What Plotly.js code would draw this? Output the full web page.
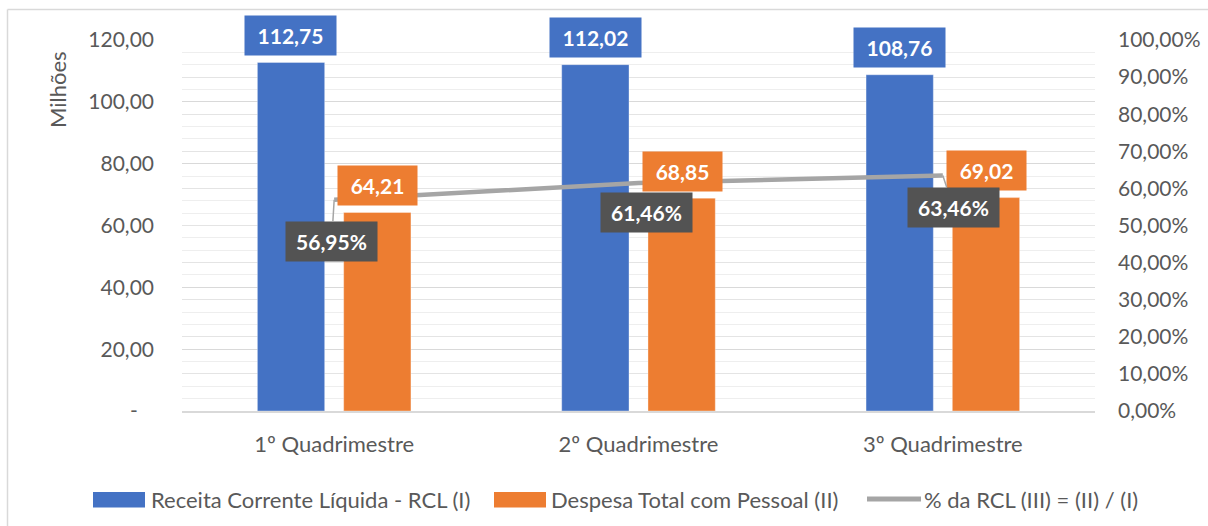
<!DOCTYPE html>
<html>
<head>
<meta charset="utf-8">
<script src="https://cdn.plot.ly/plotly-3.0.1.min.js"></script>
<style>
  html, body { margin: 0; padding: 0; background: #ffffff; }
  #chart { width: 1208px; height: 526px; }
</style>
</head>
<body>
<div id="chart"></div>
<script>
// Receita Corrente Líquida x Despesa com Pessoal por quadrimestre
const categories = ['1º Quadrimestre', '2º Quadrimestre', '3º Quadrimestre'];
const receitaRCL = [112.75, 112.02, 108.76];          // milhões
const despesaPessoal = [64.21, 68.85, 69.02];         // milhões
const percentualRCL = [0.5695, 0.6146, 0.6346];       // (II) / (I)

const leftTickVals = [0, 20, 40, 60, 80, 100, 120];
const leftTickText = ['-\u00a0\u00a0\u00a0', '20,00', '40,00', '60,00', '80,00', '100,00', '120,00'];
const rightTickVals = [0, 0.1, 0.2, 0.3, 0.4, 0.5, 0.6, 0.7, 0.8, 0.9, 1.0];

const seriesNames = ['Receita Corrente Líquida - RCL (I)', 'Despesa Total com Pessoal (II)', '% da RCL (III) = (II) / (I)'];

const BLUE = '#4472c4', ORANGE = '#ed7d31', GRAY = '#a5a5a5', DARK = '#535353', TEXT = '#595959';
const FONT = 'Lato, "Open Sans", sans-serif';

const fmt = v => v.toFixed(2).replace('.', ',');
const fmtPct = v => (v * 100).toFixed(2).replace('.', ',') + '%';

// plot box in pixels, used to place the frame and the legend
const M = { l: 182, r: 113, t: 40, b: 115 };
const W = 1208, H = 526;
const pw = W - M.l - M.r, ph = H - M.t - M.b;
const px = x => (x - M.l) / pw;
const py = y => (H - M.b - y) / ph;

const traces = [
  {
    type: 'bar', name: seriesNames[0], x: categories, y: receitaRCL,
    marker: { color: BLUE, line: { color: 'rgba(255,255,255,0.35)', width: 1 } },
    hoverinfo: 'skip'
  },
  {
    type: 'bar', name: seriesNames[1], x: categories, y: despesaPessoal,
    marker: { color: ORANGE, line: { color: 'rgba(255,255,255,0.35)', width: 1 } },
    hoverinfo: 'skip'
  },
  {
    type: 'scatter', mode: 'lines', name: seriesNames[2], x: categories, y: percentualRCL,
    yaxis: 'y2', line: { color: GRAY, width: 4.5 }, hoverinfo: 'skip'
  }
];

const labelFont = { family: FONT, size: 21, color: '#ffffff', weight: 700 };
const annotations = [];

receitaRCL.forEach((v, i) => {
  annotations.push({
    x: categories[i], y: v, xref: 'x', yref: 'y', xshift: -43.5, yshift: 27,
    text: '<b>' + fmt(v) + '</b>', showarrow: false, font: labelFont,
    bgcolor: BLUE, width: 89, height: 37, xanchor: 'center', yanchor: 'middle'
  });
});
despesaPessoal.forEach((v, i) => {
  annotations.push({
    x: categories[i], y: v, xref: 'x', yref: 'y', xshift: 43.5, yshift: 27,
    text: '<b>' + fmt(v) + '</b>', showarrow: false, font: labelFont,
    bgcolor: ORANGE, width: 77, height: 37, xanchor: 'center', yanchor: 'middle'
  });
});

// percentage labels sit below the line; the first and last keep a leader line
const pctOffsets = [ { ax: -2.5, ay: 41.5, leader: true }, { ax: 8, ay: 29.5, leader: false }, { ax: 10.5, ay: 32, leader: true } ];
percentualRCL.forEach((v, i) => {
  const o = pctOffsets[i];
  const a = {
    x: categories[i], y: v, xref: 'x', yref: 'y2',
    text: '<b>' + fmtPct(v) + '</b>', font: labelFont,
    bgcolor: DARK, width: 89, height: 37
  };
  if (o.leader) {
    Object.assign(a, { showarrow: true, ax: o.ax, ay: o.ay, arrowhead: 0, arrowwidth: 1.5, arrowcolor: GRAY, standoff: 0 });
  } else {
    Object.assign(a, { showarrow: false, xshift: o.ax, yshift: -o.ay, xanchor: 'center', yanchor: 'middle' });
  }
  annotations.push(a);
});

// axis title
annotations.push({
  xref: 'paper', yref: 'paper', x: px(57), y: py(90), text: 'Milhões', textangle: -90,
  showarrow: false, font: { family: FONT, size: 22, color: TEXT }, xanchor: 'center', yanchor: 'middle'
});

// legend
const legendY = py(499.5);
const legendItems = [
  { x0: 93, x1: 145, tx: 149, color: BLUE, kind: 'rect' },
  { x0: 494, x1: 546, tx: 549, color: ORANGE, kind: 'rect' },
  { x0: 867, x1: 921, tx: 922, color: GRAY, kind: 'line' }
];
const shapes = [
  // chart frame (left and top edges)
  { type: 'line', xref: 'paper', yref: 'paper', x0: px(7.5), x1: px(7.5), y0: py(9.5), y1: py(530), line: { color: '#d9d9d9', width: 1.5 } },
  { type: 'line', xref: 'paper', yref: 'paper', x0: px(7.5), x1: px(1210), y0: py(9.5), y1: py(9.5), line: { color: '#d9d9d9', width: 1.5 } }
];
legendItems.forEach((it, i) => {
  if (it.kind === 'rect') {
    shapes.push({ type: 'rect', xref: 'paper', yref: 'paper', x0: px(it.x0), x1: px(it.x1), y0: py(507.5), y1: py(492),
      fillcolor: it.color, line: { width: 0 } });
  } else {
    shapes.push({ type: 'line', xref: 'paper', yref: 'paper', x0: px(it.x0), x1: px(it.x1), y0: py(499), y1: py(499),
      line: { color: it.color, width: 5 } });
  }
  annotations.push({
    xref: 'paper', yref: 'paper', x: px(it.tx), y: legendY, xanchor: 'left', yanchor: 'middle',
    text: seriesNames[i], showarrow: false, font: { family: FONT, size: 22, color: TEXT }
  });
});

const layout = {
  width: W, height: H,
  margin: M,
  paper_bgcolor: '#ffffff', plot_bgcolor: '#ffffff',
  separators: ',.',
  showlegend: false,
  barmode: 'group', bargap: 0.433, bargroupgap: 0.22,
  font: { family: FONT, color: TEXT },
  xaxis: {
    type: 'category', range: [-0.5, 2.5], showgrid: false, zeroline: false,
    showline: true, linecolor: '#d9d9d9', linewidth: 1.5, ticks: '',
    tickfont: { family: FONT, size: 22, color: TEXT }, ticklabelstandoff: 13
  },
  yaxis: {
    range: [0, 120], tickmode: 'array', tickvals: leftTickVals, ticktext: leftTickText,
    showgrid: true, gridcolor: '#d9d9d9', gridwidth: 1, zeroline: false, showline: false, ticks: '',
    tickfont: { family: FONT, size: 21, color: TEXT }, ticklabelstandoff: 27,
    minor: { dtick: 4, showgrid: true, gridcolor: '#eeeeee', gridwidth: 1 }
  },
  yaxis2: {
    range: [0, 1], overlaying: 'y', side: 'right', tickmode: 'array', tickvals: rightTickVals,
    tickformat: '.2%', showgrid: true, gridcolor: '#e4e4e4', gridwidth: 1, zeroline: false, ticks: '',
    tickfont: { family: FONT, size: 21, color: TEXT }, ticklabelstandoff: 22
  },
  shapes: shapes,
  annotations: annotations
};

Plotly.newPlot('chart', traces, layout, { staticPlot: true, displayModeBar: false });
</script>
</body>
</html>
